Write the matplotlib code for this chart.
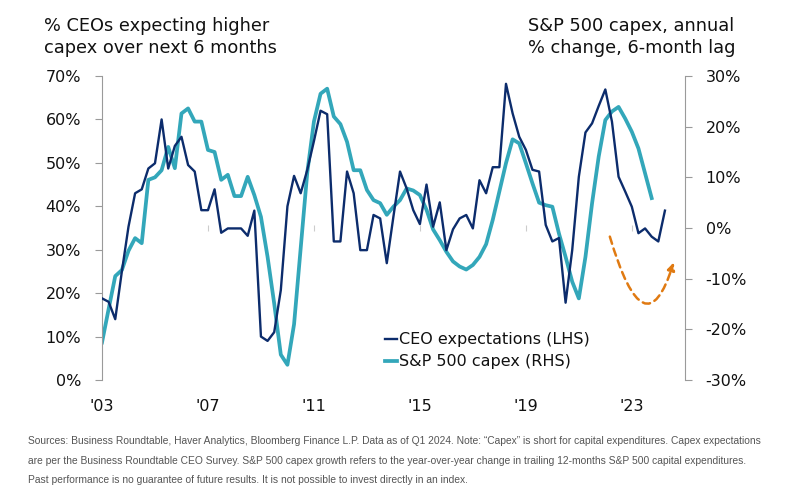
import numpy as np
import matplotlib.pyplot as plt
from matplotlib.path import Path
from matplotlib.patches import FancyArrowPatch

# quarterly readings, first point = Q1 2003
ceo_expect = [18.8, 18.0, 14.0, 25.0, 35.3, 43.0, 43.9, 48.7, 49.9, 60.0,
              48.7, 53.9, 56.0, 49.5, 48.0, 39.1, 39.1, 43.9, 33.9, 34.9,
              34.9, 34.9, 33.2, 39.0, 10.0, 9.0, 11.0, 20.7, 40.0, 47.0,
              43.0, 48.4, 55.0, 62.0, 61.2, 31.9, 31.9, 48.0, 43.0, 29.9,
              29.9, 38.0, 37.2, 26.9, 37.6, 48.0, 44.1, 39.1, 35.9, 45.0,
              35.3, 40.9, 29.9, 34.7, 37.2, 38.0, 34.9, 46.0, 43.0, 49.0,
              49.0, 68.2, 61.4, 56.0, 53.0, 48.4, 48.0, 35.7, 31.9, 32.7,
              17.8, 29.9, 46.8, 57.0, 59.1, 63.1, 66.9, 59.5, 46.8, 43.4,
              39.9, 33.8, 34.9, 33.0, 31.9, 39.0]

sp_capex = [-22.6, -16.0, -9.5, -8.3, -4.5, -2.0, -3.0, 9.5, 10.0, 11.4,
            16.0, 11.8, 22.6, 23.6, 21.0, 21.0, 15.4, 15.0, 9.5, 10.5,
            6.3, 6.3, 10.1, 6.5, 2.2, -5.7, -14.9, -25.0, -27.0, -19.0,
            -4.0, 11.0, 21.0, 26.5, 27.5, 22.0, 20.5, 17.0, 11.4, 11.4,
            7.5, 5.5, 4.9, 2.6, 4.2, 5.5, 7.8, 7.4, 6.5, 3.6,
            -0.3, -2.4, -4.7, -6.6, -7.6, -8.2, -7.3, -5.7, -3.2, 1.6,
            7.2, 12.8, 17.5, 16.7, 12.8, 8.8, 5.0, 4.5, 4.2, -1.1,
            -5.7, -10.6, -13.9, -5.7, 4.9, 14.1, 21.3, 23.0, 23.9, 21.6,
            19.0, 15.7, 10.8, 5.9]

year_ticks = [2003, 2007, 2011, 2015, 2019, 2023]
year_labels = ["'03", "'07", "'11", "'15", "'19", "'23"]
left_ticks = [0, 10, 20, 30, 40, 50, 60, 70]
right_ticks = [-30, -20, -10, 0, 10, 20, 30]

t_ceo = 2003 + 0.25 * np.arange(len(ceo_expect))
t_cap = 2003 + 0.25 * np.arange(len(sp_capex))

navy = '#0c2c6c'
teal = '#33a7ba'
orange = '#e07a12'
grey = '#9a9a9a'
ink = '#111111'

plt.rcParams['font.family'] = ['DejaVu Sans']

fig = plt.figure(figsize=(8, 4.99), dpi=100)
ax = fig.add_axes([0.1275, 0.2385, 0.7285, 0.6092])
ax2 = ax.twinx()

l1, = ax.plot(t_ceo, ceo_expect, color=navy, lw=1.7, zorder=3, label='CEO expectations (LHS)')
l2, = ax2.plot(t_cap, sp_capex, color=teal, lw=2.7, zorder=2, label='S&P 500 capex (RHS)')
ax.set_zorder(ax2.get_zorder() + 1)
ax.patch.set_visible(False)

ax.set_xlim(2003, 2025)
ax.set_ylim(0, 70)
ax2.set_ylim(-30, 30)

ax.set_yticks(left_ticks)
ax.set_yticklabels([f'{v}%' for v in left_ticks])
ax2.set_yticks(right_ticks)
ax2.set_yticklabels([f'{v}%' for v in right_ticks])
ax.set_xticks(year_ticks)
ax.set_xticklabels(year_labels)

for a in (ax, ax2):
    for s in a.spines.values():
        s.set_visible(False)
ax.spines['left'].set_visible(True)
ax.spines['left'].set_color(grey)
ax2.spines['right'].set_visible(True)
ax2.spines['right'].set_color(grey)

ax.tick_params(axis='y', length=5, color=grey, labelsize=11.5, pad=10, labelcolor=ink)
ax2.tick_params(axis='y', length=5, color=grey, labelsize=11.5, pad=10, labelcolor=ink)
ax.tick_params(axis='x', length=0, labelsize=11.5, pad=14, labelcolor=ink)

# faint tick marks along the zero line of the RHS
ax2.plot(year_ticks[1:], [0] * (len(year_ticks) - 1), ls='none', marker='|',
         ms=4, color='#cccccc', mew=0.8, zorder=1)

# dashed projection arrow
p = Path([(2022.17, -1.7), (2023.49, -25.0), (2024.58, -6.8)],
         [Path.MOVETO, Path.CURVE3, Path.CURVE3])
arr = FancyArrowPatch(path=p, arrowstyle='-|>', mutation_scale=11,
                      color=orange, lw=1.8, linestyle=(0, (3, 2)),
                      transform=ax2.transData, zorder=4)
ax2.add_patch(arr)

leg = ax.legend(handles=[l1, l2], loc='lower left', bbox_to_anchor=(0.485, 0.035),
                frameon=False, fontsize=11.5, handlelength=0.8, handletextpad=0.1,
                labelspacing=0.45, borderpad=0, borderaxespad=0)
for t in leg.get_texts():
    t.set_color(ink)

fig.text(0.055, 0.966, '% CEOs expecting higher\ncapex over next 6 months',
         fontsize=12.8, va='top', ha='left', color=ink, linespacing=1.3)
fig.text(0.66, 0.966, 'S&P 500 capex, annual\n% change, 6-month lag',
         fontsize=12.8, va='top', ha='left', color=ink, linespacing=1.3)

note = ('Sources: Business Roundtable, Haver Analytics, Bloomberg Finance L.P. Data as of Q1 2024. '
        'Note: \u201cCapex\u201d is short for capital expenditures. Capex expectations\n'
        'are per the Business Roundtable CEO Survey. S&P 500 capex growth refers to the '
        'year-over-year change in trailing 12-months S&P 500 capital expenditures.\n'
        'Past performance is no guarantee of future results. It is not possible to invest directly in an index.')
nt = fig.text(0.035, 0.126, note, fontsize=7.0, va='top', ha='left', color='#555555',
              linespacing=1.75, family=['Liberation Sans Narrow', 'Liberation Sans', 'DejaVu Sans'])

# shrink the footnote so its widest line spans about 730 px like the original
fig.canvas.draw()
w = nt.get_window_extent().width
nt.set_fontsize(7.0 * 730 / w)
nt.set_linespacing(2.2)

fig.savefig('out.png', dpi=100)
